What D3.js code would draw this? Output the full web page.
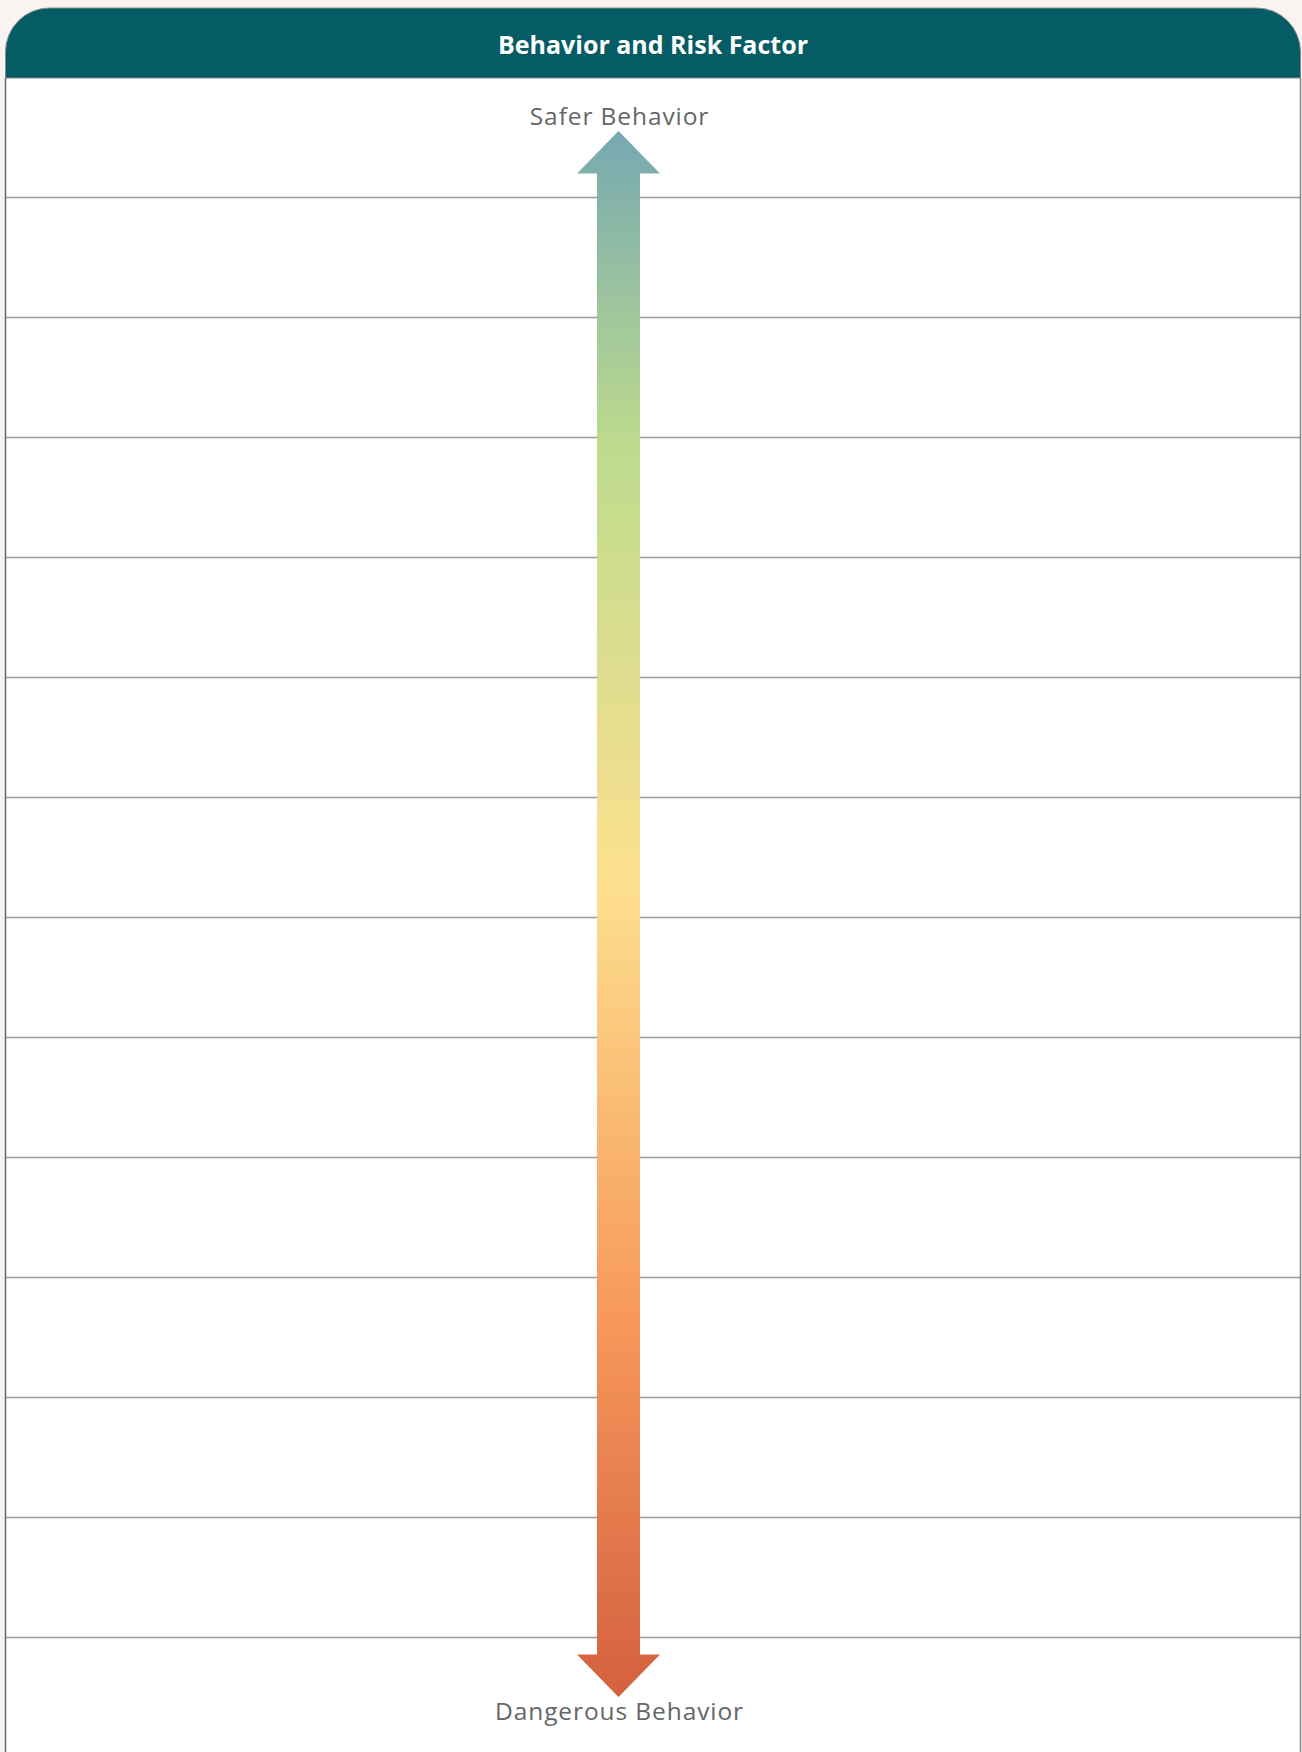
<!DOCTYPE html>
<html>
<head>
<meta charset="utf-8">
<script src="https://cdn.jsdelivr.net/npm/d3@7"></script>
<style>
  body { margin: 0; background: #f9f4f1; }
  svg { display: block; }
</style>
</head>
<body>
<svg width="1302" height="1752"></svg>
<script>
const title = "Behavior and Risk Factor";
const topLabel = "Safer Behavior",
    bottomLabel = "Dangerous Behavior";

// 14 blank rows in the worksheet
const rows = d3.range(14);

// gradient along the arrow, 0 = safer end, 1 = dangerous end
const gradOffsets = [0, 0.2, 0.48, 0.755, 1];
const gradColours = ["#76a8b1", "#bddb8d", "#fde08f", "#f7995c", "#d4603f"];

const svg = d3.select("svg"),
    width = +svg.attr("width"),
    height = +svg.attr("height");

const left = 5.5, right = 1300.5, headTop = 8, headBottom = 78;

// Rows
const yScale = d3.scaleBand().domain(rows).range([headBottom, headBottom + 120 * rows.length]);

svg.append("rect")
    .attr("x", left)
    .attr("y", headBottom)
    .attr("width", right - left)
    .attr("height", height - headBottom)
    .attr("fill", "#fff");

svg.append("g")
  .selectAll("line")
  .data(rows.slice(1))
  .enter().append("line")
    .attr("x1", left)
    .attr("x2", right)
    .attr("y1", function(d) { return yScale(d) - 0.5; })
    .attr("y2", function(d) { return yScale(d) - 0.5; })
    .attr("stroke", "#9a9a9a")
    .attr("stroke-width", 1.5);

// side borders
svg.append("line")
    .attr("x1", left).attr("x2", left)
    .attr("y1", headBottom).attr("y2", height)
    .attr("stroke", "#666").attr("stroke-width", 1.5);
svg.append("line")
    .attr("x1", right).attr("x2", right)
    .attr("y1", headBottom).attr("y2", height)
    .attr("stroke", "#888").attr("stroke-width", 1.5);

// Header with rounded top corners
const r = 44;
const headerPath = d3.path();
headerPath.moveTo(left, headBottom);
headerPath.lineTo(left, headTop + r);
headerPath.arcTo(left, headTop, left + r, headTop, r);
headerPath.lineTo(right - r, headTop);
headerPath.arcTo(right, headTop, right, headTop + r, r);
headerPath.lineTo(right, headBottom);
headerPath.closePath();

svg.append("path")
    .attr("d", headerPath.toString())
    .attr("fill", "#055c64")
    .attr("stroke", "#8a8a8a")
    .attr("stroke-width", 1);

svg.append("text")
    .attr("x", (left + right) / 2)
    .attr("y", 54)
    .attr("text-anchor", "middle")
    .style("font-family", "'Open Sans', sans-serif")
    .style("font-weight", "bold")
    .style("font-size", "25px")
    .style("fill", "#fff")
    .text(title);

// Arrow
const cx = 618.5;
const aScale = d3.scaleLinear().domain([0, 1]).range([131, 1697]);
const shaft = 43, headHalf = 41.5, headLen = 42.5;

const defs = svg.append("defs");
const grad = defs.append("linearGradient")
    .attr("id", "riskGrad")
    .attr("gradientUnits", "userSpaceOnUse")
    .attr("x1", 0).attr("x2", 0)
    .attr("y1", aScale(0)).attr("y2", aScale(1));
grad.selectAll("stop")
  .data(gradOffsets)
  .enter().append("stop")
    .attr("offset", function(d) { return d; })
    .attr("stop-color", function(d, i) { return gradColours[i]; });

const t = aScale(0), b = aScale(1);
const arrowPts = [
  [cx, t],
  [cx + headHalf, t + headLen],
  [cx + shaft / 2, t + headLen],
  [cx + shaft / 2, b - headLen],
  [cx + headHalf, b - headLen],
  [cx, b],
  [cx - headHalf, b - headLen],
  [cx - shaft / 2, b - headLen],
  [cx - shaft / 2, t + headLen],
  [cx - headHalf, t + headLen]
];

svg.append("path")
    .attr("d", d3.line()(arrowPts) + "Z")
    .attr("fill", "url(#riskGrad)");

// End labels
const labelStyle = function(sel) {
  sel.attr("text-anchor", "middle")
    .style("font-family", "'Open Sans', sans-serif")
    .style("font-size", "24.5px")
    .style("letter-spacing", "0.9px")
    .style("fill", "#666");
};

svg.append("text")
    .attr("x", cx + 1)
    .attr("y", 125)
    .call(labelStyle)
    .text(topLabel);

svg.append("text")
    .attr("x", cx + 1)
    .attr("y", 1720)
    .call(labelStyle)
    .text(bottomLabel);
</script>
</body>
</html>
